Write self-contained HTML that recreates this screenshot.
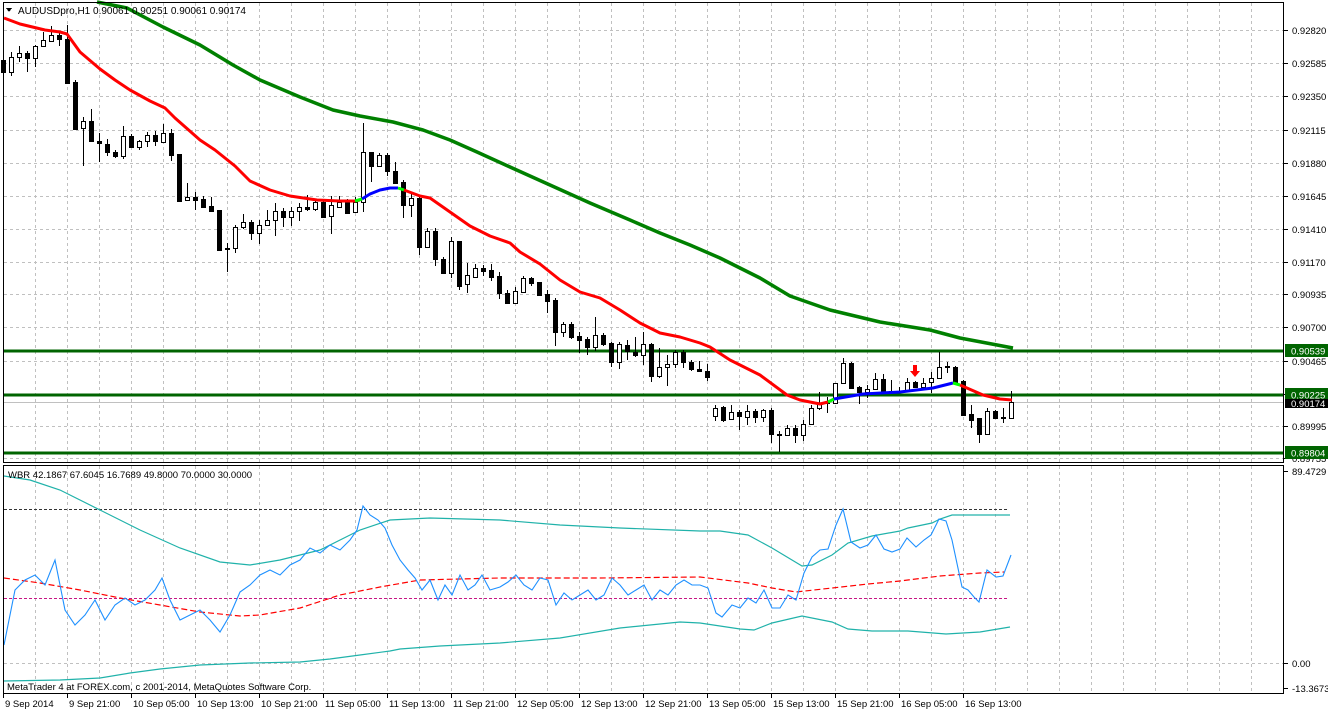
<!DOCTYPE html>
<html><head><meta charset="utf-8"><style>
html,body{margin:0;padding:0;background:#fff;}
svg{display:block;font-family:"Liberation Sans",Tahoma,sans-serif;font-size:9.5px;}
</style></head><body>
<svg id="s" width="1328" height="712" xmlns="http://www.w3.org/2000/svg" shape-rendering="crispEdges">
<rect width="1328" height="712" fill="#fff"/>
<g id="grid" stroke="#c0c0c0" stroke-dasharray="3,3" stroke-width="1"></g>
<line x1="3" y1="402.5" x2="1284" y2="402.5" stroke="#c0c0c0"/>
<g stroke="#006400" stroke-width="3">
<line x1="3" y1="351" x2="1284" y2="351"/>
<line x1="3" y1="395" x2="1284" y2="395"/>
<line x1="3" y1="453" x2="1284" y2="453"/>
</g>
<g id="candles" stroke="#000" stroke-width="1"></g>
<g fill="none" stroke-linejoin="round" shape-rendering="auto">
<polyline stroke="#008000" stroke-width="3.5" points="97,2 127,8 163,27 200,45 233,65 260,80 300,97 333,110 360,116 393,122 423,130 450,140 477,152 510,167 550,185 590,203 630,220 660,233 690,245 720,258 760,278 790,296 830,310 880,322 930,330 960,338 1013,348"/>
<polyline stroke="#ff0000" stroke-width="3" points="4,18 20,24 45,30 60,32 67,34 80,52 100,69 115,80 130,90 150,101 165,108 175,118 200,140 215,150 235,166 250,181 270,190 290,196 317,200 340,201 355,201 360,200"/>
<polyline stroke="#0000ff" stroke-width="3" points="362,199 370,194 380,190 390,188 398,188"/>
<polyline stroke="#00ff00" stroke-width="3" points="355,201 362,199"/>
<polyline stroke="#00ff00" stroke-width="3" points="398,188 404,190"/>
<polyline stroke="#ff0000" stroke-width="3" points="404,190 420,196 430,198 450,212 470,226 490,236 510,243 520,252 540,264 560,280 580,292 590,295 600,298 620,310 640,323 660,333 680,337 700,343 710,347 730,360 760,375 787,395 800,400 820,404 828,402"/>
<polyline stroke="#00ff00" stroke-width="3" points="828,402 834,399"/>
<polyline stroke="#0000ff" stroke-width="3" points="834,399 863,394 900,392 933,388 953,383"/>
<polyline stroke="#00ff00" stroke-width="3" points="953,383 960,385"/>
<polyline stroke="#ff0000" stroke-width="3" points="960,385 983,395 1000,399 1012,400"/>
</g>
<path d="M913,365 h4 v6 h3 l-5,6 l-5,-6 h3 z" fill="#ff0000" shape-rendering="auto"/>
<g fill="none" shape-rendering="auto">
<line x1="4" y1="509.5" x2="1008" y2="509.5" stroke="#333" stroke-dasharray="3,2" shape-rendering="crispEdges"/>
<line x1="4" y1="598.5" x2="1008" y2="598.5" stroke="#c71585" stroke-dasharray="3,2" shape-rendering="crispEdges"/>
<polyline stroke="#20b2aa" stroke-width="1.2" points="4,476 30,480 60,490 100,510 140,530 180,548 220,562 250,565 280,560 320,550 360,530 390,520 430,518 500,520 560,525 620,528 700,531 720,531 748,535 772,548 802,566 812,565 832,555 848,543 872,536 900,531 908,528 932,523 940,519 952,515 1010,515"/>
<polyline stroke="#20b2aa" stroke-width="1.2" points="4,681 60,680 100,678 130,673 160,669 200,665 250,663 300,662 330,659 360,655 390,651 400,649 440,646 500,643 560,638 620,628 680,622 700,623 740,629 754,630 772,623 802,616 832,622 848,629 872,631 908,631 946,634 980,632 1010,627"/>
<polyline stroke="#ff0000" stroke-width="1.2" stroke-dasharray="6,3" points="4,578 40,583 80,590 120,598 160,605 200,612 240,616 260,615 300,608 340,595 380,587 420,580 500,578 600,578 700,577 748,583 772,588 796,592 832,588 868,584 900,581 940,576 980,573 1004,572"/>
<polyline stroke="#1e90ff" stroke-width="1.1" points="4,645 15,590 25,580 35,575 45,585 55,560 65,610 75,625 85,615 95,600 105,620 115,605 125,598 135,605 145,600 155,590 162,578 170,600 180,620 190,615 200,610 210,620 220,632 230,615 240,592 250,585 260,575 270,570 280,575 290,565 300,560 310,548 320,553 330,545 340,550 350,540 357,530 363,506 370,515 378,520 385,528 392,545 400,560 408,570 415,578 422,590 430,580 438,600 445,585 452,595 460,575 468,590 475,585 482,575 490,590 500,587 508,582 516,575 524,585 532,590 540,578 548,580 556,605 564,593 572,600 580,595 588,590 596,600 604,595 612,578 620,585 628,595 636,590 644,585 652,600 660,590 668,595 676,585 684,580 692,585 700,585 708,588 716,613 722,617 732,605 740,608 748,598 756,603 764,590 772,608 780,608 788,595 796,600 804,573 812,557 820,550 828,549 836,525 843,509 851,542 860,548 868,545 876,535 884,549 892,552 900,549 907,538 916,547 924,540 931,535 939,519 946,521 952,540 962,587 968,590 974,597 979,602 987,570 996,577 1003,576 1011,555"/>
</g>
<g fill="none" stroke="#000" stroke-width="1">
<rect x="3.5" y="2.5" width="1280" height="460"/>
<rect x="3.5" y="465.5" width="1280" height="228"/>
</g>
<g id="axis" fill="#000"></g>
<rect x="1285" y="344" width="43" height="13" fill="#006400"/>
<text x="1291" y="354.5" fill="#fff">0.90539</text>
<rect x="1285" y="388" width="43" height="13" fill="#006400"/>
<text x="1291" y="398.5" fill="#fff">0.90225</text>
<rect x="1285" y="399" width="43" height="9" fill="#000"/>
<text x="1291" y="407" fill="#fff">0.90174</text>
<rect x="1285" y="446" width="43" height="13" fill="#006400"/>
<text x="1291" y="456.5" fill="#fff">0.89804</text>
<path d="M6,8 h6 l-3,4 z" fill="#000"/>
<text x="18" y="14" font-size="10">AUDUSDpro,H1  0.90061 0.90251 0.90061 0.90174</text>
<text x="8" y="478" font-size="9.5">WBR 42.1867 67.6045 16.7689 49.8000 70.0000 30.0000</text>
<text x="7" y="690" font-size="9.5">MetaTrader 4 at FOREX.com, c 2001-2014, MetaQuotes Software Corp.</text>
</svg>
<script>
var NS="http://www.w3.org/2000/svg";
function el(p,n,a){var e=document.createElementNS(NS,n);for(var k in a)e.setAttribute(k,a[k]);p.appendChild(e);return e;}
var g=document.getElementById("grid");
for(var x=35;x<1284;x+=32){el(g,"line",{x1:x+.5,y1:3,x2:x+.5,y2:462});el(g,"line",{x1:x+.5,y1:466,x2:x+.5,y2:693});}
var hy=[30,63,96,130,163,196,229,262,294,327,361,394,426,458];
hy.forEach(function(y){el(g,"line",{x1:4,y1:y+.5,x2:1283,y2:y+.5});});
el(g,"line",{x1:4,y1:663.5,x2:1283,y2:663.5});
var ax=document.getElementById("axis");
var pl=["0.92820","0.92585","0.92350","0.92115","0.91880","0.91645","0.91410","0.91170","0.90935","0.90700","0.90465",null,"0.89995","0.89755"];
hy.forEach(function(y,i){el(ax,"rect",{x:1284,y:y,width:4,height:1});if(pl[i]){var t=el(ax,"text",{x:1292,y:y+4});t.textContent=pl[i];}});
[[471,"89.4729"],[663,"0.00"],[688,"-13.3673"]].forEach(function(a){el(ax,"rect",{x:1284,y:a[0],width:4,height:1});var t=el(ax,"text",{x:1292,y:a[0]+4});t.textContent=a[1];});
var dl=["9 Sep 2014","9 Sep 21:00","10 Sep 05:00","10 Sep 13:00","10 Sep 21:00","11 Sep 05:00","11 Sep 13:00","11 Sep 21:00","12 Sep 05:00","12 Sep 13:00","12 Sep 21:00","13 Sep 05:00","15 Sep 13:00","15 Sep 21:00","16 Sep 05:00","16 Sep 13:00"];
dl.forEach(function(s,i){var x=3+64*i;el(ax,"rect",{x:x,y:694,width:1,height:4});var t=el(ax,"text",{x:x+2,y:707});t.textContent=s;});
var d=[[60,72,58,75],[72,57,52,76],[57,53,46,62],[53,58,51,72],[58,46,45,67],[46,40,32,46],[41,35,26,41],[35,39,32,46],[39,83,25,83],[82,129,80,129],[128,121,117,166],[121,141,109,141],[141,143,133,162],[144,152,139,156],[152,156,150,158],[156,136,126,159],[136,147,134,148],[147,141,140,150],[141,135,132,147],[135,141,131,146],[142,133,124,143],[133,155,129,161],[154,201,154,202],[200,197,183,200],[197,200,192,210],[199,207,196,208],[206,211,197,212],[210,250,210,251],[249,248,243,272],[248,227,225,253],[227,222,214,229],[222,233,220,240],[233,225,220,244],[225,220,210,226],[220,211,203,236],[211,217,208,227],[217,211,207,226],[211,207,203,221],[207,209,195,211],[209,202,199,211],[202,217,200,218],[216,205,196,234],[207,202,196,208],[202,213,199,214],[212,202,197,213],[202,152,123,212],[152,166,152,182],[166,155,153,167],[155,171,153,176],[171,183,162,183],[182,205,180,218],[205,198,192,217],[198,247,195,255],[247,231,228,247],[231,259,228,266],[259,273,257,274],[273,241,237,278],[241,286,241,290],[284,275,263,293],[277,268,264,278],[268,271,265,276],[270,277,264,281],[276,293,272,299],[293,303,290,304],[303,291,287,304],[292,278,276,293],[278,283,277,286],[282,295,282,296],[294,301,290,313],[300,332,298,346],[332,324,322,337],[324,337,322,339],[336,340,332,353],[339,347,337,355],[347,335,317,351],[335,344,333,346],[343,362,342,367],[362,344,342,369],[345,351,340,360],[352,355,337,357],[355,344,332,365],[344,376,343,382],[376,367,348,378],[367,364,355,386],[364,352,350,368],[352,362,350,368],[362,369,360,371],[369,371,361,372],[371,377,364,381],[416,408,405,421],[407,420,406,422],[419,412,405,420],[412,416,410,430],[417,411,405,425],[411,417,409,423],[417,410,409,422],[410,434,408,443],[434,435,431,452],[435,428,425,436],[428,435,425,443],[435,424,420,441],[424,408,405,425],[408,403,392,410],[402,403,397,413],[403,383,383,404],[383,363,358,384],[363,388,362,389],[387,392,386,404],[392,389,385,398],[389,379,373,390],[379,391,374,392],[391,392,380,393],[391,392,387,393],[391,382,378,392],[382,387,381,388],[387,383,378,388],[382,378,372,393],[378,367,352,379],[366,367,362,373],[367,383,366,384],[381,415,380,416],[414,420,405,428],[418,434,418,443],[434,411,408,435],[411,418,410,419],[417,418,408,423],[418,402,391,419]];
var cg=document.getElementById("candles");
d.forEach(function(c,i){var x=3+8*i+.5;var o=c[0],cl=c[1];var top=Math.min(o,cl),bot=Math.max(o,cl);
el(cg,"line",{x1:x,y1:c[2],x2:x,y2:c[3]});
var white=o>cl;
if(bot-top<1){el(cg,"line",{x1:x-2,y1:top+.5,x2:x+3,y2:top+.5});}
else el(cg,"rect",{x:x-2,y:top+.5,width:4,height:bot-top,fill:white?"#fff":"#000"});});
</script>
</body></html>
